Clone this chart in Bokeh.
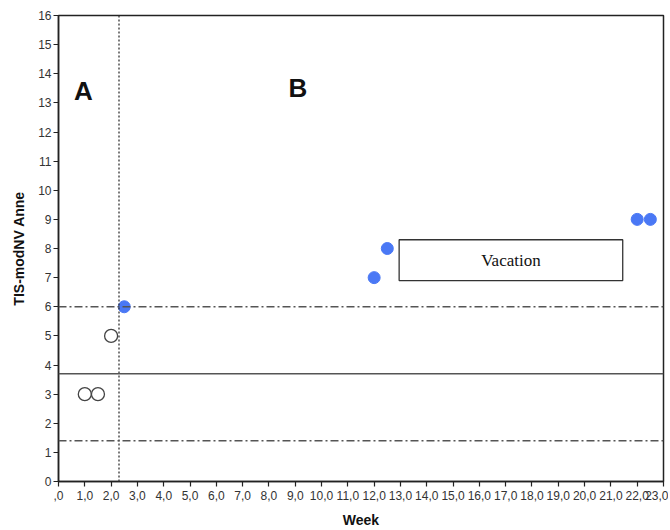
from bokeh.plotting import figure
from bokeh.models import Span, FixedTicker, Range1d, Label
from bokeh.embed import file_html
from bokeh.resources import INLINE

# Data
phase_a_weeks = [1.0, 1.5, 2.0]
phase_a_scores = [3, 3, 5]
phase_b_weeks = [2.5, 12.0, 12.5, 22.0, 22.5]
phase_b_scores = [6, 7, 8, 9, 9]

x_ticks = list(range(0, 24))
x_tick_labels = [",0"] + [f"{i},0" for i in range(1, 24)]
y_ticks = list(range(0, 17))

phase_change_week = 2.3
mean_line = 3.7
upper_line = 6.0
lower_line = 1.4

vacation_left, vacation_right = 12.95, 21.45
vacation_bottom, vacation_top = 6.9, 8.3

FONT = "Liberation Sans"

p = figure(width=668, height=530, output_backend="svg", toolbar_location=None,
           x_range=Range1d(0, 23), y_range=Range1d(0, 16))
p.min_border_left = 58
p.min_border_right = 5
p.min_border_top = 15
p.min_border_bottom = 46
p.xgrid.visible = False
p.ygrid.visible = False
p.outline_line_color = "#222222"
p.outline_line_width = 1.5
p.background_fill_color = "white"
p.border_fill_color = "white"

p.xaxis.ticker = FixedTicker(ticks=x_ticks)
p.xaxis.major_label_overrides = {t: l for t, l in zip(x_ticks, x_tick_labels)}
p.yaxis.ticker = FixedTicker(ticks=y_ticks)
for ax in (p.xaxis, p.yaxis):
    ax.axis_line_color = "#222222"
    ax.axis_line_width = 1.5
    ax.major_tick_line_color = "#222222"
    ax.major_tick_line_width = 1.2
    ax.major_tick_in = 0
    ax.major_tick_out = 5
    ax.minor_tick_line_color = None
    ax.major_label_text_font = FONT
    ax.major_label_text_font_size = "12px"
    ax.major_label_text_color = "#333333"
    ax.axis_label_text_font = FONT
    ax.axis_label_text_font_style = "bold"
    ax.axis_label_text_font_size = "14px"
    ax.axis_label_text_color = "#111111"
p.xaxis.major_label_standoff = 4
p.yaxis.major_label_standoff = 2
p.xaxis.axis_label = "Week"
p.yaxis.axis_label = "TIS-modNV Anne"
p.xaxis.axis_label_standoff = 9
p.yaxis.axis_label_standoff = 8

# reference lines
p.add_layout(Span(location=phase_change_week, dimension="height", line_color="#333333",
                  line_width=1.3, line_dash="2 2"))
p.add_layout(Span(location=mean_line, dimension="width", line_color="#555555", line_width=1.5))
p.add_layout(Span(location=upper_line, dimension="width", line_color="#555555",
                  line_width=1.3, line_dash="8 3 2 3"))
p.add_layout(Span(location=lower_line, dimension="width", line_color="#555555",
                  line_width=1.3, line_dash="8 3 2 3"))

# vacation box
p.quad(left=[vacation_left], right=[vacation_right], bottom=[vacation_bottom], top=[vacation_top],
       fill_color="white", line_color="#333333", line_width=1.3)
p.add_layout(Label(x=(vacation_left + vacation_right) / 2, y=(vacation_bottom + vacation_top) / 2,
                   text="Vacation", text_font="Liberation Serif", text_font_size="17px",
                   text_align="center", text_baseline="middle", text_color="#111111"))

# points
p.scatter(phase_a_weeks, phase_a_scores, size=13, marker="circle", fill_color="white",
          line_color="#444444", line_width=1.3)
p.scatter(phase_b_weeks, phase_b_scores, size=12, marker="circle", fill_color="#4a78f5",
          line_color="#4a78f5")

# phase labels
p.add_layout(Label(x=0.95, y=13.4, text="A", text_font=FONT, text_font_style="bold",
                   text_font_size="26px", text_align="center", text_baseline="middle",
                   text_color="#111111"))
p.add_layout(Label(x=9.1, y=13.5, text="B", text_font=FONT, text_font_style="bold",
                   text_font_size="26px", text_align="center", text_baseline="middle",
                   text_color="#111111"))

open("out.html", "w").write(file_html(p, INLINE))
